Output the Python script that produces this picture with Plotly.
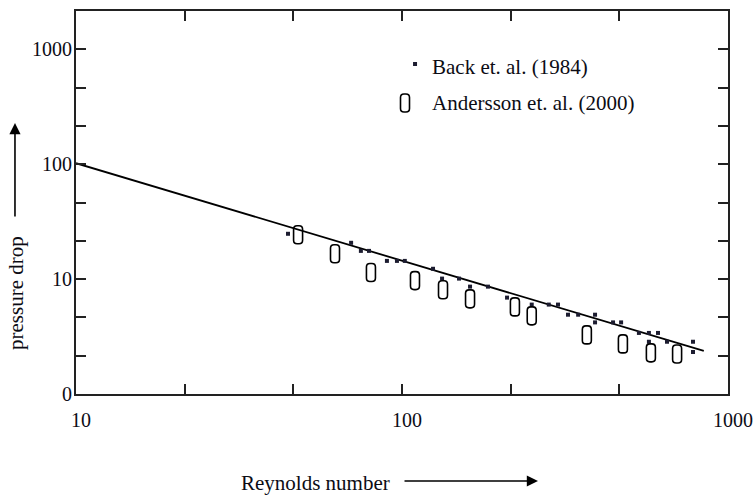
import plotly.graph_objects as go

# Correlation line (straight in log-log space), end points
line_re = [10, 843]
line_dp = [102, 2.37]

# Back et. al. (1984) measurements
back_re = [44.7, 69.8, 74.8, 79.2, 89.9, 96.5, 102, 124.5, 132.7, 149.6, 161.7, 183.5,
           210, 250, 282, 301, 323, 347, 391, 391, 444, 470, 533, 572, 610, 572, 650,
           781, 781]
back_dp = [24.8, 20.7, 17.6, 17.6, 14.4, 14.4, 14.4, 12.3, 10.1, 10.1, 8.6, 8.6,
           6.9, 6.0, 6.0, 6.0, 4.9, 4.9, 4.9, 4.2, 4.2, 4.2, 3.4, 3.4, 3.4, 2.85, 2.85,
           2.85, 2.32]

# Andersson et. al. (2000) measurements
and_re = [48.0, 62.3, 80.3, 109.6, 133.6, 161.7, 222, 250, 369, 476, 580, 698]
and_dp = [24.3, 16.6, 11.4, 9.7, 8.07, 6.73, 5.73, 4.79, 3.27, 2.73, 2.28, 2.23]

# Axis ticks: three per decade, labels only on decades
x_tickvals = [10 ** (1 + k / 3) for k in range(7)]
x_ticktext = ["10", "", "", "100", "", "", "1000"]
y_tickvals = [10 ** (k / 3) for k in range(11)]
y_ticktext = ["0", "", "", "10", "", "", "100", "", "", "1000", ""]

SERIF = "Liberation Serif, Times New Roman, serif"
INK = "#0c0c14"

# Tall rounded-rectangle outline used as the Andersson marker (pixel units)
ROUND_RECT = ("M -4.5,-5.5 L -4.5,5.5 Q -4.5,9 -1,9 L 1,9 Q 4.5,9 4.5,5.5 "
              "L 4.5,-5.5 Q 4.5,-9 1,-9 L -1,-9 Q -4.5,-9 -4.5,-5.5 Z")

fig = go.Figure()

fig.add_trace(go.Scatter(
    x=line_re, y=line_dp, mode="lines",
    line=dict(color="black", width=1.8), showlegend=False, hoverinfo="skip"))

fig.add_trace(go.Scatter(
    x=back_re, y=back_dp, mode="markers",
    marker=dict(symbol="square", size=4, color="#1c1c30", line=dict(width=0)),
    name="Back et. al. (1984)", showlegend=False))

fig.add_trace(go.Scatter(
    x=and_re, y=and_dp, mode="markers",
    marker=dict(size=12, opacity=0),
    name="Andersson et. al. (2000)", showlegend=False))

shapes = []
for xv, yv in zip(and_re, and_dp):
    shapes.append(dict(
        type="path", xref="x", yref="y", xsizemode="pixel", ysizemode="pixel",
        xanchor=xv, yanchor=yv, path=ROUND_RECT,
        line=dict(color="black", width=1.6), fillcolor="rgba(0,0,0,0)"))

# Legend symbols
shapes.append(dict(
    type="rect", xref="paper", yref="paper", xsizemode="pixel", ysizemode="pixel",
    xanchor=0.520, yanchor=0.8616, x0=-2, x1=2, y0=-2, y1=2,
    line=dict(width=0), fillcolor="#1c1c30"))
shapes.append(dict(
    type="path", xref="paper", yref="paper", xsizemode="pixel", ysizemode="pixel",
    xanchor=0.5046, yanchor=0.7598, path=ROUND_RECT,
    line=dict(color="black", width=1.6), fillcolor="rgba(0,0,0,0)"))

annotations = [
    dict(text="Back et. al. (1984)", x=0.5429, y=0.8538, xref="paper", yref="paper",
         xanchor="left", yanchor="middle", showarrow=False,
         font=dict(family=SERIF, size=21, color=INK)),
    dict(text="Andersson et. al. (2000)", x=0.5429, y=0.7598, xref="paper", yref="paper",
         xanchor="left", yanchor="middle", showarrow=False,
         font=dict(family=SERIF, size=21, color=INK)),
    # axis titles
    dict(text="pressure drop", x=-0.0920, y=0.2637, xref="paper", yref="paper",
         textangle=-90, xanchor="center", yanchor="middle", showarrow=False,
         font=dict(family=SERIF, size=21, color=INK)),
    dict(text="Reynolds number", x=0.368, y=-0.2324, xref="paper", yref="paper",
         xanchor="center", yanchor="middle", showarrow=False,
         font=dict(family=SERIF, size=21, color=INK)),
    # direction arrows next to the titles
    dict(text="", x=-0.0936, y=0.7076, xref="paper", yref="paper",
         ax=0, ay=95, showarrow=True, arrowhead=2, arrowsize=1.4,
         arrowwidth=1.6, arrowcolor="black"),
    dict(text="", x=0.7086, y=-0.2272, xref="paper", yref="paper",
         ax=-135, ay=0, showarrow=True, arrowhead=2, arrowsize=1.4,
         arrowwidth=1.6, arrowcolor="black"),
]

axis_common = dict(
    showline=True, linecolor="#222222", linewidth=2, mirror="ticks",
    ticks="inside", ticklen=10, tickwidth=2, tickcolor="#222222",
    showgrid=False, zeroline=False, automargin=False,
    tickfont=dict(family=SERIF, size=20, color=INK),
)

fig.update_xaxes(type="log", range=[1, 3], tickmode="array",
                 tickvals=x_tickvals, ticktext=x_ticktext,
                 ticklabelstandoff=7, ticklabelshift=5, **axis_common)
fig.update_yaxes(type="log", range=[0, 10 / 3], tickmode="array",
                 tickvals=y_tickvals, ticktext=y_ticktext,
                 ticklabelstandoff=-2, **axis_common)

fig.update_layout(
    width=753, height=497,
    margin=dict(l=76, r=25, t=11, b=103),
    paper_bgcolor="white", plot_bgcolor="white",
    shapes=shapes, annotations=annotations,
    showlegend=False,
)

fig.write_html("out.html", config={"displayModeBar": False})
